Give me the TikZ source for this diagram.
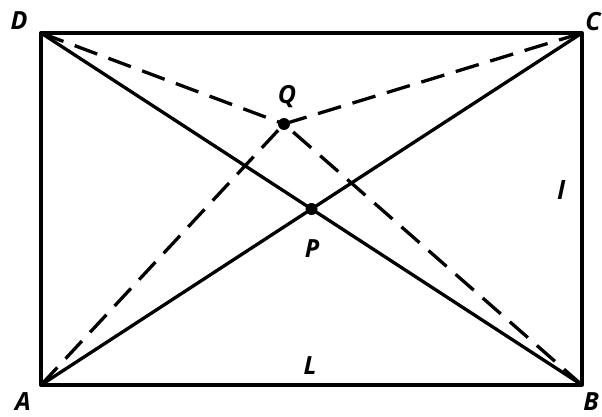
\documentclass[tikz,border=0pt]{standalone}
\usepackage{fontspec}
\setmainfont{Open Sans}
\begin{document}
\begin{tikzpicture}[x=1pt,y=-1pt,
  edge/.style={line width=3.3pt,line cap=round,line join=round},
  dashline/.style={line width=3.3pt,dash pattern=on 24pt off 12pt},
  lbl/.style={font=\fontsize{25}{28}\selectfont\bfseries\itshape,inner sep=0pt},
  dot/.style={circle,fill=black,inner sep=0pt,minimum size=12pt}]
\useasboundingbox (0,0) rectangle (602,417);
\coordinate (A) at (41,385);
\coordinate (B) at (582,385);
\coordinate (C) at (582,33);
\coordinate (D) at (41,33);
\node[dot] (P) at (311.5,209) {};
\node[dot] (Q) at (284,124) {};
\draw[edge] (A) -- (B) -- (C) -- (D) -- cycle;
\draw[edge] (A) -- (P.center) -- (C);
\draw[edge] (D) -- (P.center) -- (B);
\draw[dashline] (D) -- (Q.center);
\draw[dashline] (C) -- (Q.center);
\draw[dashline] (A) -- (Q.center);
\draw[dashline] (B) -- (Q.center);
\node[lbl] (lD) at (19,21) {D};
\node[lbl] (lC) at (593,22) {C};
\node[lbl] (lA) at (23,402) {A};
\node[lbl] (lB) at (591,402) {B};
\node[lbl] (lQ) at (287,97) {Q};
\node[lbl] (lP) at (312,249) {P};
\node[lbl] (lL) at (310,366) {L};
\node[lbl] (ll) at (561,190) {l};
\end{tikzpicture}
\end{document}
